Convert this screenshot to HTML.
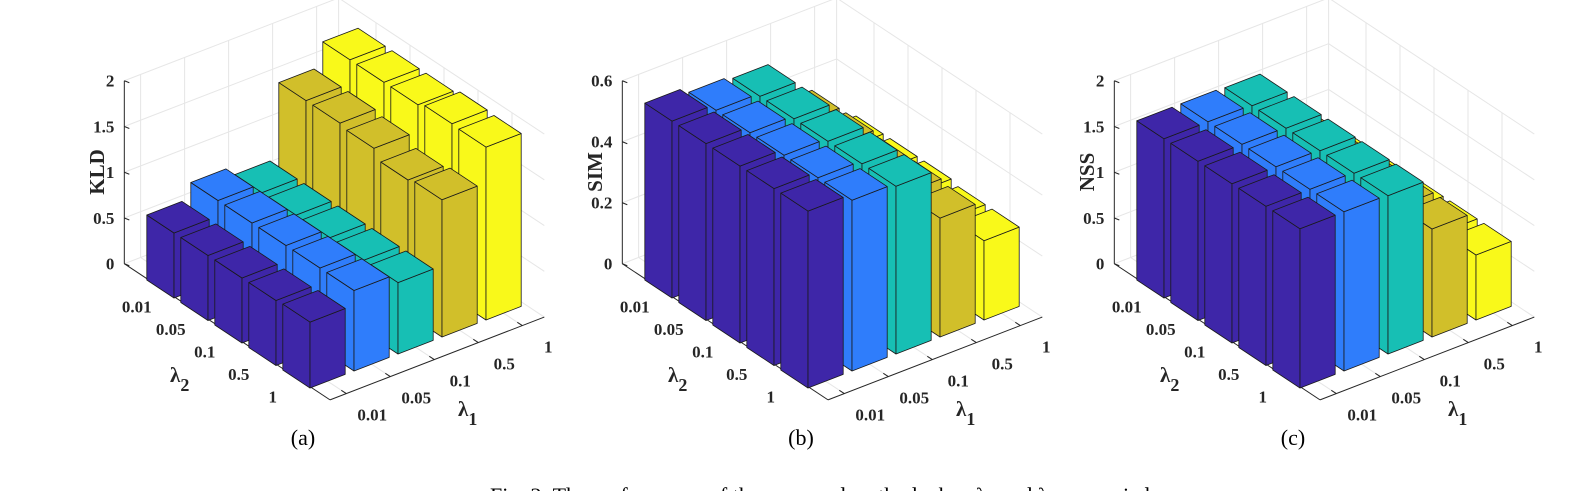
<!DOCTYPE html>
<html><head><meta charset="utf-8">
<style>
html,body{margin:0;padding:0;background:#fff;overflow:hidden;}
svg{display:block;}
text{font-family:"Liberation Serif",serif;}
.tk{font-size:17px;font-weight:bold;fill:#262626;}
.zl{font-size:21px;font-weight:bold;fill:#262626;}
.cap{font-size:22px;fill:#000;}
</style></head>
<body>
<svg id="fig" width="1590" height="491" viewBox="0 0 1590 491" xmlns="http://www.w3.org/2000/svg"></svg>
<script>
const lambda1Labels = ["0.01","0.05","0.1","0.5","1"];
const lambda2Labels = ["0.01","0.05","0.1","0.5","1"];
// values[j][i]: j = lambda1 index, i = lambda2 index
const kldValues = [
  [0.71,0.71,0.71,0.71,0.72],
  [0.88,0.88,0.88,0.88,0.88],
  [0.78,0.78,0.78,0.78,0.78],
  [1.60,1.60,1.57,1.47,1.50],
  [1.86,1.86,1.86,1.90,1.89]
];
const simValues = [
  [0.58,0.58,0.58,0.58,0.58],
  [0.56,0.56,0.56,0.56,0.56],
  [0.55,0.55,0.55,0.55,0.55],
  [0.41,0.41,0.40,0.40,0.39],
  [0.27,0.27,0.27,0.26,0.26]
];
const nssValues = [
  [1.74,1.74,1.74,1.74,1.74],
  [1.74,1.74,1.74,1.74,1.74],
  [1.73,1.73,1.73,1.73,1.73],
  [1.18,1.18,1.18,1.18,1.18],
  [0.71,0.71,0.71,0.71,0.71]
];
const kldTicks = ["0","0.5","1","1.5","2"];
const simTicks = ["0","0.2","0.4","0.6"];
const nssTicks = ["0","0.5","1","1.5","2"];
const colors = ["#3e26a8","#2f7dfb","#17bfb4","#d1bf2a","#f9f91a"];

const NS = "http://www.w3.org/2000/svg";
const svg = document.getElementById("fig");
function mk(tag, attrs, parent){
  const e = document.createElementNS(NS, tag);
  for (const k in attrs) e.setAttribute(k, attrs[k]);
  (parent||svg).appendChild(e);
  return e;
}

function panel(dx, name, zName, values, ticks, zmax, capLabel){
  const g = mk("g", {});
  
  
  const Ox = 314 + dx, Oy = 372.2;
  const zs = 183 / zmax;
  const A0 = -0.37, A1 = 4.5, B0 = -0.95, B1 = 5.1;
  const P = (a,b,z) => [Ox + a*44 - b*34, Oy - a*17 - b*22.5 - z*zs];
  const pt = p => p[0].toFixed(1) + "," + p[1].toFixed(1);
  const line = (p,q,st,w,par) => mk("line",{x1:p[0],y1:p[1],x2:q[0],y2:q[1],stroke:st,"stroke-width":w}, par||g);
  const grid = "#e6e6e6";
  const tickVals = ticks.map(Number);
  tickVals.forEach(z => {
    line(P(A0,B1,z), P(A1,B1,z), grid, 1);
    line(P(A1,B1,z), P(A1,B0,z), grid, 1);
  });
  for (let j=0;j<5;j++){ line(P(j,B1,0), P(j,B1,zmax), grid, 1); line(P(j,B0,0), P(j,B1,0), grid, 1); }
  for (let i=0;i<5;i++){ const b=4-i; line(P(A1,b,0), P(A1,b,zmax), grid, 1); line(P(A0,b,0), P(A1,b,0), grid, 1); }
  line(P(A1,B1,0), P(A1,B1,zmax), grid, 1);
  const ax = "#262626";
  line(P(A0,B1,0), P(A0,B1,zmax), ax, 1);
  line(P(A0,B0,0), P(A0,B1,0), ax, 1);
  line(P(A0,B0,0), P(A1,B0,0), ax, 1);
  ticks.forEach((t,k) => {
    const p = P(A0,B1,tickVals[k]);
    line(p, [p[0]+5,p[1]+2], ax, 1);
    const tx = mk("text",{x:p[0]-10,y:p[1]+6,"text-anchor":"end",class:"tk"}, g);
    tx.textContent = t;
    
    
  });
  lambda2Labels.forEach((t,i) => {
    const b = 4-i, p = P(A0,b,0);
    line(p, [p[0]+6,p[1]-2.3], ax, 1);
    const tx = mk("text",{x:p[0]-25,y:p[1]+24,"text-anchor":"middle",class:"tk"}, g);
    tx.textContent = t;
    
    
  });
  lambda1Labels.forEach((t,j) => {
    const p = P(j,B0,0);
    line(p, [p[0]-5,p[1]-3.3], ax, 1);
    const tx = mk("text",{x:p[0]+26,y:p[1]+27,"text-anchor":"middle",class:"tk"}, g);
    tx.textContent = t;
    
    
  });
  const l2 = mk("text",{x:170+dx,y:382,class:"zl","font-size":"24"}, g);
  l2.innerHTML = 'λ<tspan dy="9" font-size="18">2</tspan>';
  
  
  const l1 = mk("text",{x:458+dx,y:416,class:"zl","font-size":"24"}, g);
  l1.innerHTML = 'λ<tspan dy="9" font-size="18">1</tspan>';
  
  
  const zt = mk("text",{x:0,y:0,class:"zl","text-anchor":"middle",transform:`translate(${104+dx},172) rotate(-90)`}, g);
  zt.textContent = zName;
  
  
  const cp = mk("text",{x:303+dx,y:445,class:"cap","text-anchor":"middle"}, g);
  cp.textContent = capLabel;
  
  
  const bars = [];
  for (let j=0;j<5;j++) for (let i=0;i<5;i++) bars.push([j,i]);
  bars.sort((p,q) => ((p[0]*17+(4-p[1])*22.5) < (q[0]*17+(4-q[1])*22.5)) ? 1 : -1);
  bars.forEach(([j,i]) => {
    const v = values[j][i];
    const a0=j-0.4,a1=j+0.4,b=4-i,b0=b-0.4,b1=b+0.4;
    const bg = mk("g",{stroke:"#1a1a1a","stroke-width":0.8,"stroke-linejoin":"round",fill:colors[j]}, g);
    
    
    mk("polygon",{points:[P(a0,b0,0),P(a0,b1,0),P(a0,b1,v),P(a0,b0,v)].map(pt).join(" ")}, bg);
    mk("polygon",{points:[P(a0,b0,0),P(a1,b0,0),P(a1,b0,v),P(a0,b0,v)].map(pt).join(" ")}, bg);
    mk("polygon",{points:[P(a0,b0,v),P(a1,b0,v),P(a1,b1,v),P(a0,b1,v)].map(pt).join(" ")}, bg);
  });
}
panel(0, "kld", "KLD", kldValues, kldTicks, 2, "(a)");
panel(498, "sim", "SIM", simValues, simTicks, 0.6, "(b)");
panel(990, "nss", "NSS", nssValues, nssTicks, 2, "(c)");
const fc = mk("text",{x:490,y:503,class:"cap","font-size":"25"});
fc.innerHTML = 'Fig. 3: The performance of the proposed method when λ<tspan font-size="17" dy="5">1</tspan><tspan dy="-5"> and λ</tspan><tspan font-size="17" dy="5">2</tspan><tspan dy="-5"> are varied.</tspan>';


</script>
</body></html>
